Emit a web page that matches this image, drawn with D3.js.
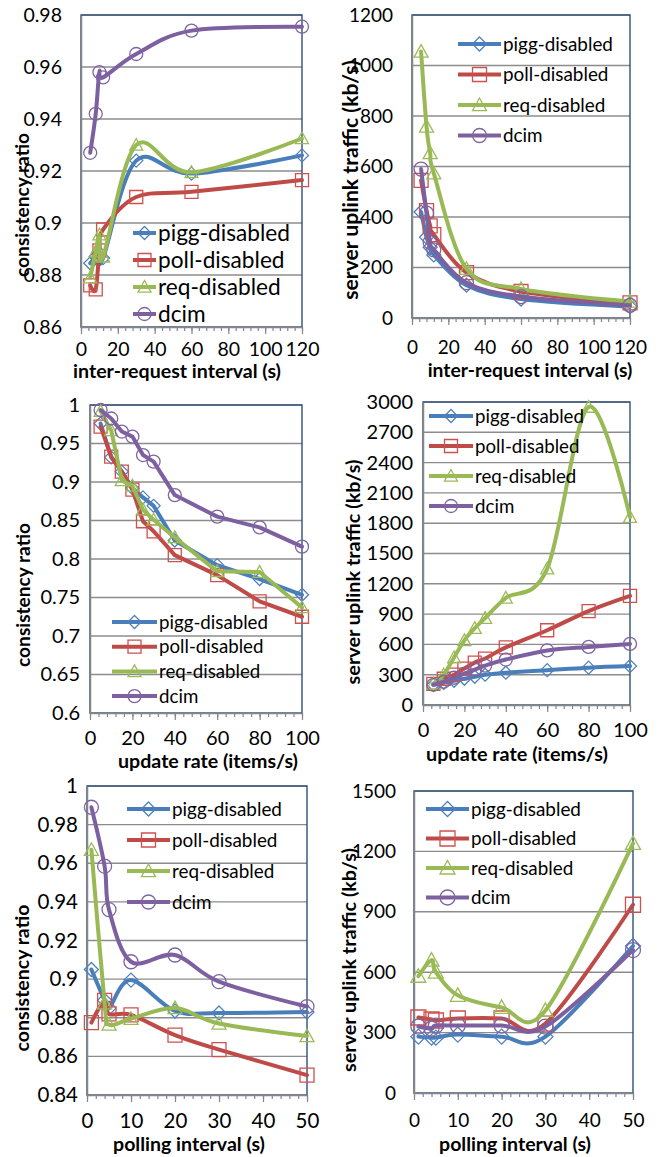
<!DOCTYPE html>
<html>
<head>
<meta charset="utf-8">
<script src="https://cdn.jsdelivr.net/npm/d3@7"></script>
<style>
  body { margin: 0; background: #fff; }
  svg { display: block; }
  text { font-family: Lato, "Open Sans", sans-serif; fill: #000; }
</style>
</head>
<body>
<svg id="chart" width="662" height="1157"></svg>
<script>
var seriesNames = ['pigg-disabled', 'poll-disabled', 'req-disabled', 'dcim'];

// (a) inter-request interval
var reqInterval = [5, 8, 10, 12, 30, 60, 120];
var ratioReqPigg = [0.8845, 0.887, 0.8885, 0.8865, 0.924, 0.919, 0.926];
var ratioReqPoll = [0.876, 0.8745, 0.8895, 0.8975, 0.910, 0.912, 0.9165];
var ratioReqReq = [0.879, 0.889, 0.8955, 0.887, 0.930, 0.9195, 0.9325];
var ratioReqDcim = [0.927, 0.942, 0.958, 0.956, 0.965, 0.974, 0.9755];
var trafficReqPigg = [420, 320, 280, 250, 130, 75, 45];
var trafficReqPoll = [545, 425, 365, 330, 180, 105, 60];
var trafficReqReq = [1055, 758, 653, 573, 195, 115, 65];
var trafficReqDcim = [590, 415, 300, 270, 140, 85, 50];

// (b) update rate
var updateRate = [5, 10, 15, 20, 25, 30, 40, 60, 80, 100];
var ratioUpdPigg = [0.976, 0.932, 0.9135, 0.892, 0.880, 0.869, 0.824, 0.792, 0.774, 0.7535];
var ratioUpdPoll = [0.972, 0.933, 0.9135, 0.890, 0.849, 0.836, 0.805, 0.779, 0.745, 0.725];
var ratioUpdReq = [0.992, 0.967, 0.902, 0.895, 0.864, 0.851, 0.828, 0.784, 0.783, 0.737];
var ratioUpdDcim = [0.9935, 0.9825, 0.9655, 0.959, 0.935, 0.9265, 0.883, 0.855, 0.841, 0.816];
var trafficUpdPigg = [200, 220, 240, 260, 280, 300, 320, 345, 370, 385];
var trafficUpdPoll = [210, 260, 300, 360, 420, 460, 570, 740, 930, 1080];
var trafficUpdReq = [210, 300, 470, 640, 760, 860, 1060, 1350, 2950, 1860];
var trafficUpdDcim = [200, 230, 270, 310, 350, 390, 450, 540, 575, 605];

// (c) polling interval
var pollInterval = [1, 4, 5, 10, 20, 30, 50];
var ratioPollPigg = [0.905, 0.889, 0.885, 0.8995, 0.8835, 0.8825, 0.883];
var ratioPollPoll = [0.8775, 0.889, 0.882, 0.8815, 0.871, 0.8635, 0.8503];
var ratioPollReq = [0.967, 0.8875, 0.8765, 0.8795, 0.885, 0.877, 0.8705];
var ratioPollDcim = [0.989, 0.9585, 0.936, 0.909, 0.9125, 0.8987, 0.8858];
var trafficPollPigg = [280, 275, 275, 290, 280, 280, 730];
var trafficPollPoll = [375, 365, 360, 370, 370, 345, 935];
var trafficPollReq = [580, 660, 600, 485, 425, 410, 1240];
var trafficPollDcim = [330, 320, 335, 335, 335, 330, 710];

var lineColors = ['#4a7ebb', '#be4b48', '#98b954', '#7d60a0'];
var markColors = ['#4f81bd', '#d0504d', '#9bbb59', '#8064a2'];
var markTypes = ['diamond', 'square', 'triangle', 'circle'];

var svg = d3.select('#chart');

var panels = [
	{ xs: reqInterval, ys: [ratioReqPigg, ratioReqPoll, ratioReqReq, ratioReqDcim], smooth: true,
		left: 81, right: 302, top: 15, bottom: 327, xDomain: [0, 120], xStep: 20, xMinor: 4,
		yDomain: [0.86, 0.98], yStep: 0.02, tickGap: 19, xLabelY: 356, tickFont: 19.5,
		xTitle: 'inter-request interval (s)', xTitlePos: [177, 378], xTitleW: 208,
		yTitle: 'consistency ratio', yTitlePos: [22, 205], yTitleW: 144,
		leg: { x: 133, len: 23, y: 233, gap: 27, w: 132 }, ms: 13 },
	{ xs: reqInterval, ys: [trafficReqPigg, trafficReqPoll, trafficReqReq, trafficReqDcim], smooth: true,
		left: 412, right: 630, top: 15, bottom: 318, xDomain: [0, 120], xStep: 20, xMinor: 4,
		yDomain: [0, 1200], yStep: 200, tickGap: 19, xLabelY: 354, tickFont: 19,
		xTitle: 'inter-request interval (s)', xTitlePos: [530, 377], xTitleW: 205,
		yTitle: 'server uplink traffic (kb/s)', yTitlePos: [351, 180], yTitleW: 240,
		leg: { x: 458, len: 43, y: 44, gap: 30.5, w: 110 }, ms: 14 },
	{ xs: updateRate, ys: [ratioUpdPigg, ratioUpdPoll, ratioUpdReq, ratioUpdDcim], smooth: false,
		left: 90, right: 302, top: 405, bottom: 713, xDomain: [0, 100], xStep: 20, xMinor: 4,
		yDomain: [0.6, 1], yStep: 0.05, tickGap: 10, xLabelY: 745, tickFont: 20,
		xTitle: 'update rate (items/s)', xTitlePos: [208, 768], xTitleW: 180,
		yTitle: 'consistency ratio', yTitlePos: [23, 595], yTitleW: 144,
		leg: { x: 112, len: 45, y: 622, gap: 24.7, w: 109 }, ms: 13 },
	{ xs: updateRate, ys: [trafficUpdPigg, trafficUpdPoll, trafficUpdReq, trafficUpdDcim], smooth: true,
		left: 423, right: 630, top: 402, bottom: 705, xDomain: [0, 100], xStep: 20, xMinor: 4,
		yDomain: [0, 3000], yStep: 300, tickGap: 10, xLabelY: 737, tickFont: 20,
		xTitle: 'update rate (items/s)', xTitlePos: [517, 761], xTitleW: 182,
		yTitle: 'server uplink traffic (kb/s)', yTitlePos: [353, 572], yTitleW: 225,
		leg: { x: 429, len: 44, y: 416, gap: 30, w: 109 }, ms: 13 },
	{ xs: pollInterval, ys: [ratioPollPigg, ratioPollPoll, ratioPollReq, ratioPollDcim], smooth: true,
		left: 87, right: 307, top: 786, bottom: 1095, xDomain: [0, 50], xStep: 10, xMinor: 2,
		yDomain: [0.84, 1], yStep: 0.02, tickGap: 9, xLabelY: 1128, tickFont: 20.5,
		xTitle: 'polling interval (s)', xTitlePos: [189, 1151], xTitleW: 152,
		yTitle: 'consistency ratio', yTitlePos: [22, 978], yTitleW: 147,
		leg: { x: 127, len: 43, y: 809, gap: 31, w: 110 }, ms: 14 },
	{ xs: pollInterval, ys: [trafficPollPigg, trafficPollPoll, trafficPollReq, trafficPollDcim], smooth: true,
		left: 414, right: 633, top: 791, bottom: 1093, xDomain: [0, 50], xStep: 10, xMinor: 2,
		yDomain: [0, 1500], yStep: 300, tickGap: 18, xLabelY: 1127, tickFont: 19,
		xTitle: 'polling interval (s)', xTitlePos: [515, 1151], xTitleW: 152,
		yTitle: 'server uplink traffic (kb/s)', yTitlePos: [349, 960], yTitleW: 224,
		leg: { x: 426, len: 43, y: 809, gap: 29.5, w: 110 }, ms: 15 }
];

function markerPath(type, s) {
	var h = s / 2;
	if (type === 'diamond')
		return 'M0,' + (-h) + 'L' + h + ',0L0,' + h + 'L' + (-h) + ',0Z';
	if (type === 'square')
		return 'M' + (-h) + ',' + (-h) + 'h' + s + 'v' + s + 'h' + (-s) + 'Z';
	if (type === 'triangle')
		return 'M0,' + (-0.5 * s) + 'L' + h + ',' + (0.4 * s) + 'L' + (-h) + ',' + (0.4 * s) + 'Z';
	return d3.symbol(d3.symbolCircle, Math.PI * h * h)();
}

function fmt(v) {
	return String(+v.toFixed(2));
}

// scale a text's font so that it spans the wanted width
function fitFont(sel, width) {
	var w = sel.node().getComputedTextLength();
	var f = parseFloat(sel.style('font-size'));
	if (w > 0)
		sel.style('font-size', (f * width / w) + 'px');
	return parseFloat(sel.style('font-size'));
}

function drawPanel(p) {
	var g = svg.append('g');
	var x = d3.scaleLinear().domain(p.xDomain).range([p.left, p.right]);
	var y = d3.scaleLinear().domain(p.yDomain).range([p.bottom, p.top]);
	var eps = p.yStep / 1000;
	var yTicks = d3.range(p.yDomain[0], p.yDomain[1] + eps, p.yStep);
	var xTicks = d3.range(p.xDomain[0], p.xDomain[1] + 1e-6, p.xStep);
	var xMinor = d3.range(p.xDomain[0], p.xDomain[1] + 1e-6, p.xMinor);

	// gridlines
	g.selectAll('line.grid').data(yTicks.slice(1)).join('line')
		.attr('x1', p.left).attr('x2', p.right)
		.attr('y1', function(d) { return y(d); }).attr('y2', function(d) { return y(d); })
		.attr('stroke', '#8c8c8c').attr('stroke-width', 1.4);

	// plot area border (top/right dark)
	g.append('rect')
		.attr('x', p.left).attr('y', p.top)
		.attr('width', p.right - p.left).attr('height', p.bottom - p.top)
		.attr('fill', 'none').attr('stroke', '#2f4f78').attr('stroke-width', 1.4);

	// y axis
	var yAxis = d3.axisLeft(y).tickValues(yTicks).tickSize(0).tickPadding(p.tickGap).tickFormat(fmt);
	var ya = g.append('g').attr('transform', 'translate(' + p.left + ',0)').call(yAxis);
	ya.select('.domain').attr('stroke', '#868686').attr('stroke-width', 1.5);
	ya.selectAll('text').style('font-size', p.tickFont + 'px').attr('fill', '#000');

	// x axis, minor + major ticks
	var xMinorAxis = d3.axisBottom(x).tickValues(xMinor).tickSize(4).tickFormat('');
	var xm = g.append('g').attr('transform', 'translate(0,' + p.bottom + ')').call(xMinorAxis);
	xm.select('.domain').remove();
	xm.selectAll('line').attr('stroke', '#868686').attr('stroke-width', 1.2);

	var xAxis = d3.axisBottom(x).tickValues(xTicks).tickSize(7).tickSizeOuter(0).tickFormat(d3.format('d'));
	var xa = g.append('g').attr('transform', 'translate(0,' + p.bottom + ')').call(xAxis);
	xa.select('.domain').attr('stroke', '#868686').attr('stroke-width', 1.5);
	xa.selectAll('line').attr('stroke', '#868686').attr('stroke-width', 1.2);
	xa.selectAll('text').style('font-size', p.tickFont + 'px').attr('fill', '#000')
		.attr('y', p.xLabelY - p.bottom).attr('dy', null);

	// titles
	var xt = g.append('text')
		.attr('x', p.xTitlePos[0]).attr('y', p.xTitlePos[1])
		.attr('text-anchor', 'middle').style('font-size', '18px').style('font-weight', 'bold')
		.text(p.xTitle);
	fitFont(xt, p.xTitleW);
	var yt = g.append('text')
		.attr('transform', 'translate(' + p.yTitlePos[0] + ',' + p.yTitlePos[1] + ') rotate(-90)')
		.attr('dy', '0.35em')
		.attr('text-anchor', 'middle').style('font-size', '18px').style('font-weight', 'bold')
		.text(p.yTitle);
	fitFont(yt, p.yTitleW);

	// series
	var line = d3.line()
		.x(function(d) { return x(d[0]); })
		.y(function(d) { return y(d[1]); })
		.curve(p.smooth ? d3.curveCatmullRom.alpha(0) : d3.curveLinear);

	p.ys.forEach(function(vals, i) {
		var pts = p.xs.map(function(v, k) { return [v, vals[k]]; });
		var s = g.append('g');
		s.append('path').attr('d', line(pts))
			.attr('fill', 'none').attr('stroke', lineColors[i]).attr('stroke-width', 4)
			.attr('stroke-linejoin', 'round').attr('stroke-linecap', 'round');
		s.selectAll('path.mk').data(pts).join('path')
			.attr('class', 'mk')
			.attr('transform', function(d) { return 'translate(' + x(d[0]) + ',' + y(d[1]) + ')'; })
			.attr('d', markerPath(markTypes[i], p.ms))
			.attr('fill', 'none').attr('stroke', markColors[i]).attr('stroke-width', 1.3);
	});

	// legend
	var L = p.leg;
	var lg = g.selectAll('g.leg').data(seriesNames).join('g')
		.attr('transform', function(d, i) { return 'translate(' + L.x + ',' + (L.y + i * L.gap) + ')'; });
	lg.append('line').attr('x1', 0).attr('x2', L.len).attr('y1', 0).attr('y2', 0)
		.attr('stroke', function(d, i) { return lineColors[i]; }).attr('stroke-width', 4);
	lg.append('path').attr('transform', 'translate(' + (L.len / 2) + ',0)')
		.attr('d', function(d, i) { return markerPath(markTypes[i], p.ms); })
		.attr('fill', 'none').attr('stroke', function(d, i) { return markColors[i]; }).attr('stroke-width', 1.3);
	var lt = lg.append('text').attr('x', L.len + 2).attr('dy', '0.35em')
		.style('font-size', '19px')
		.text(function(d) { return d; });
	var lf = fitFont(d3.select(lt.nodes()[0]), L.w);
	lt.style('font-size', lf + 'px');
}

panels.forEach(drawPanel);
</script>
</body>
</html>
